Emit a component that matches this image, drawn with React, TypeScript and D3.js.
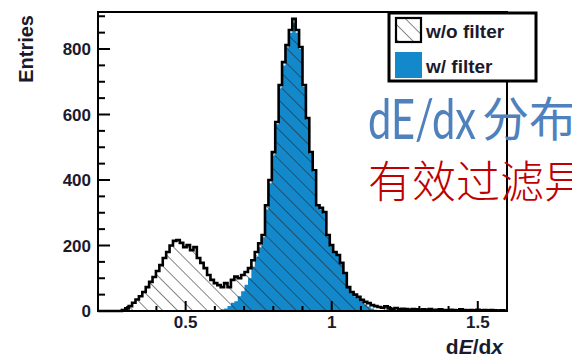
import React from "react";
import * as d3 from "d3";

// histogram binning (dE/dx)
const binLow = 0.2;
const binHigh = 1.6;
const nBins = 120;

// entries per bin
const entriesNoFilter = [
  0, 0, 0, 0, 0, 0, 0, 3, 8, 15, 25, 35, 45, 58, 73, 89, 104, 122, 140, 162,
  180, 200, 214, 217, 208, 195, 201, 186, 195, 162, 147, 131, 110, 95, 85, 79, 73, 85, 73, 95,
  105, 100, 110, 119, 131, 155, 180, 207, 232, 323, 400, 485, 577, 690, 760, 812, 858, 892, 858, 806,
  690, 589, 485, 430, 323, 315, 302, 232, 201, 180, 171, 147, 116, 73, 58, 50, 43, 34, 28, 24,
  18, 15, 12, 10, 14, 8, 6, 9, 5, 7, 6, 4, 6, 5, 3, 5, 4, 6, 3, 4,
  5, 3, 2, 4, 3, 2, 5, 3, 2, 3, 2, 4, 2, 3, 2, 3, 2, 1, 2, 1,
];

const entriesFilter = [
  0, 0, 0, 0, 0, 0, 0, 0, 0, 0, 0, 0, 0, 0, 0, 0, 0, 0, 0, 0,
  0, 0, 0, 0, 0, 0, 0, 0, 0, 0, 0, 0, 0, 0, 0, 3, 5, 8, 15, 25,
  30, 45, 60, 80, 100, 135, 165, 195, 225, 310, 390, 475, 570, 680, 750, 805, 850, 880, 850, 800,
  685, 585, 480, 425, 320, 310, 298, 228, 198, 177, 168, 144, 113, 70, 55, 45, 38, 28, 20, 14,
  8, 4, 2, 0, 0, 0, 0, 0, 0, 0, 0, 0, 0, 0, 0, 0, 0, 0, 0, 0,
  0, 0, 0, 0, 0, 0, 0, 0, 0, 0, 0, 0, 0, 0, 0, 0, 0, 0, 0, 0,
];

const yMajorTicks = [0, 200, 400, 600, 800];
const xMajorTicks = [0.5, 1, 1.5];
const legendLabels = ["w/o filter", "w/ filter"];

const axisFont = "'Liberation Sans', Arial, sans-serif";

export default function App() {
  const width = 572;
  const height = 358;
  const margin = { top: 12, right: 65, bottom: 47, left: 98 };

  const x = d3
    .scaleLinear()
    .domain([binLow, binHigh])
    .range([margin.left, width - margin.right]);
  const y = d3
    .scaleLinear()
    .domain([0, 913])
    .range([height - margin.bottom, margin.top]);

  const binW = (binHigh - binLow) / nBins;
  const steps = (counts: number[]) => [
    ...counts.map((c, i) => [binLow + i * binW, c] as [number, number]),
    [binHigh, counts[counts.length - 1]] as [number, number],
  ];

  const area = d3
    .area<[number, number]>()
    .x((d) => x(d[0]))
    .y0(y(0))
    .y1((d) => y(d[1]))
    .curve(d3.curveStepAfter);
  const line = d3
    .line<[number, number]>()
    .x((d) => x(d[0]))
    .y((d) => y(d[1]))
    .curve(d3.curveStepAfter);

  const yMinor = d3.range(0, 913, 50).filter((v) => v % 200 !== 0);
  const xMinor = d3
    .range(3, 16)
    .map((v) => v / 10)
    .filter((v) => !xMajorTicks.includes(v));

  const [x0, x1] = x.range();
  const [yb, yt] = y.range();
  const blue = "#1389cc";

  return (
    <svg
      width={width}
      height={height}
      style={{ position: "absolute", left: 0, top: 0, background: "#fff" }}
    >
      <defs>
        <pattern
          id="hatch"
          patternUnits="userSpaceOnUse"
          width={10.5}
          height={10.5}
          patternTransform="rotate(-45)"
        >
          <line x1={0} y1={0} x2={0} y2={10.5} stroke="#222" strokeWidth={1.1} />
        </pattern>
      </defs>

      {/* histograms */}
      <path d={area(steps(entriesFilter)) || ""} fill={blue} />
      <path d={area(steps(entriesNoFilter)) || ""} fill="url(#hatch)" />
      <path
        d={line(steps(entriesNoFilter)) || ""}
        fill="none"
        stroke="#000"
        strokeWidth={2.6}
      />

      {/* frame */}
      <rect
        x={x0}
        y={yt}
        width={x1 - x0}
        height={yb - yt}
        fill="none"
        stroke="#000"
        strokeWidth={2}
      />

      {/* y axis ticks */}
      {yMajorTicks.map((v) => (
        <g key={"ym" + v}>
          <line x1={x0} x2={x0 + 12} y1={y(v)} y2={y(v)} stroke="#000" strokeWidth={2} />
          <text
            x={x0 - 7}
            y={y(v)}
            dy="0.36em"
            textAnchor="end"
            fontFamily={axisFont}
            fontWeight="bold"
            fontSize={17}
            fill="#1a1a2e"
          >
            {v}
          </text>
        </g>
      ))}
      {yMinor.map((v) => (
        <line key={"yn" + v} x1={x0} x2={x0 + 7} y1={y(v)} y2={y(v)} stroke="#000" strokeWidth={2} />
      ))}

      {/* x axis ticks */}
      {xMajorTicks.map((v) => (
        <g key={"xm" + v}>
          <line x1={x(v)} x2={x(v)} y1={yb} y2={yb - 10} stroke="#000" strokeWidth={2} />
          <text
            x={x(v)}
            y={yb + 17}
            textAnchor="middle"
            fontFamily={axisFont}
            fontWeight="bold"
            fontSize={17}
            fill="#1a1a2e"
          >
            {d3.format("")(v)}
          </text>
        </g>
      ))}
      {xMinor.map((v) => (
        <line key={"xn" + v} x1={x(v)} x2={x(v)} y1={yb} y2={yb - 5} stroke="#000" strokeWidth={2} />
      ))}

      {/* axis titles */}
      <text
        transform={`translate(33, 15) rotate(-90)`}
        textAnchor="end"
        fontFamily={axisFont}
        fontWeight="bold"
        fontSize={20}
        fill="#1a1a2e"
      >
        Entries
      </text>
      <text
        x={503}
        y={354}
        textAnchor="end"
        fontFamily={axisFont}
        fontWeight="bold"
        fontSize={21}
        fill="#1a1a2e"
      >
        d<tspan fontStyle="italic">E</tspan>/d<tspan fontStyle="italic">x</tspan>
      </text>

      {/* legend */}
      <rect x={389} y={13} width={147} height={68} fill="#fff" stroke="#000" strokeWidth={3} />
      <rect x={396} y={18} width={25} height={24} fill="#fff" />
      <rect x={396} y={18} width={25} height={24} fill="url(#hatch)" stroke="#000" strokeWidth={2.2} />
      <rect x={395} y={52} width={27} height={26} fill={blue} />
      {legendLabels.map((t, i) => (
        <text
          key={t}
          x={426}
          y={38 + i * 35}
          fontFamily={axisFont}
          fontWeight="bold"
          fontSize={19}
          fill="#1a1a2e"
        >
          {t}
        </text>
      ))}

      {/* slide annotations */}
      <text y={139} fill="#4f81bd">
        <tspan
          x={368}
          fontFamily="Lato, 'Noto Sans', sans-serif"
          fontSize={56}
          textLength={108}
          lengthAdjust="spacingAndGlyphs"
        >
          dE/dx
        </tspan>
        <tspan x={482} y={136} fontFamily="'Noto Sans CJK SC'" fontSize={47}>
          分布
        </tspan>
      </text>
      <text
        x={368}
        y={198}
        fill="#c00000"
        fontFamily="'Noto Sans CJK SC'"
        fontWeight={300}
        fontSize={44}
      >
        有效过滤异
      </text>
    </svg>
  );
}
